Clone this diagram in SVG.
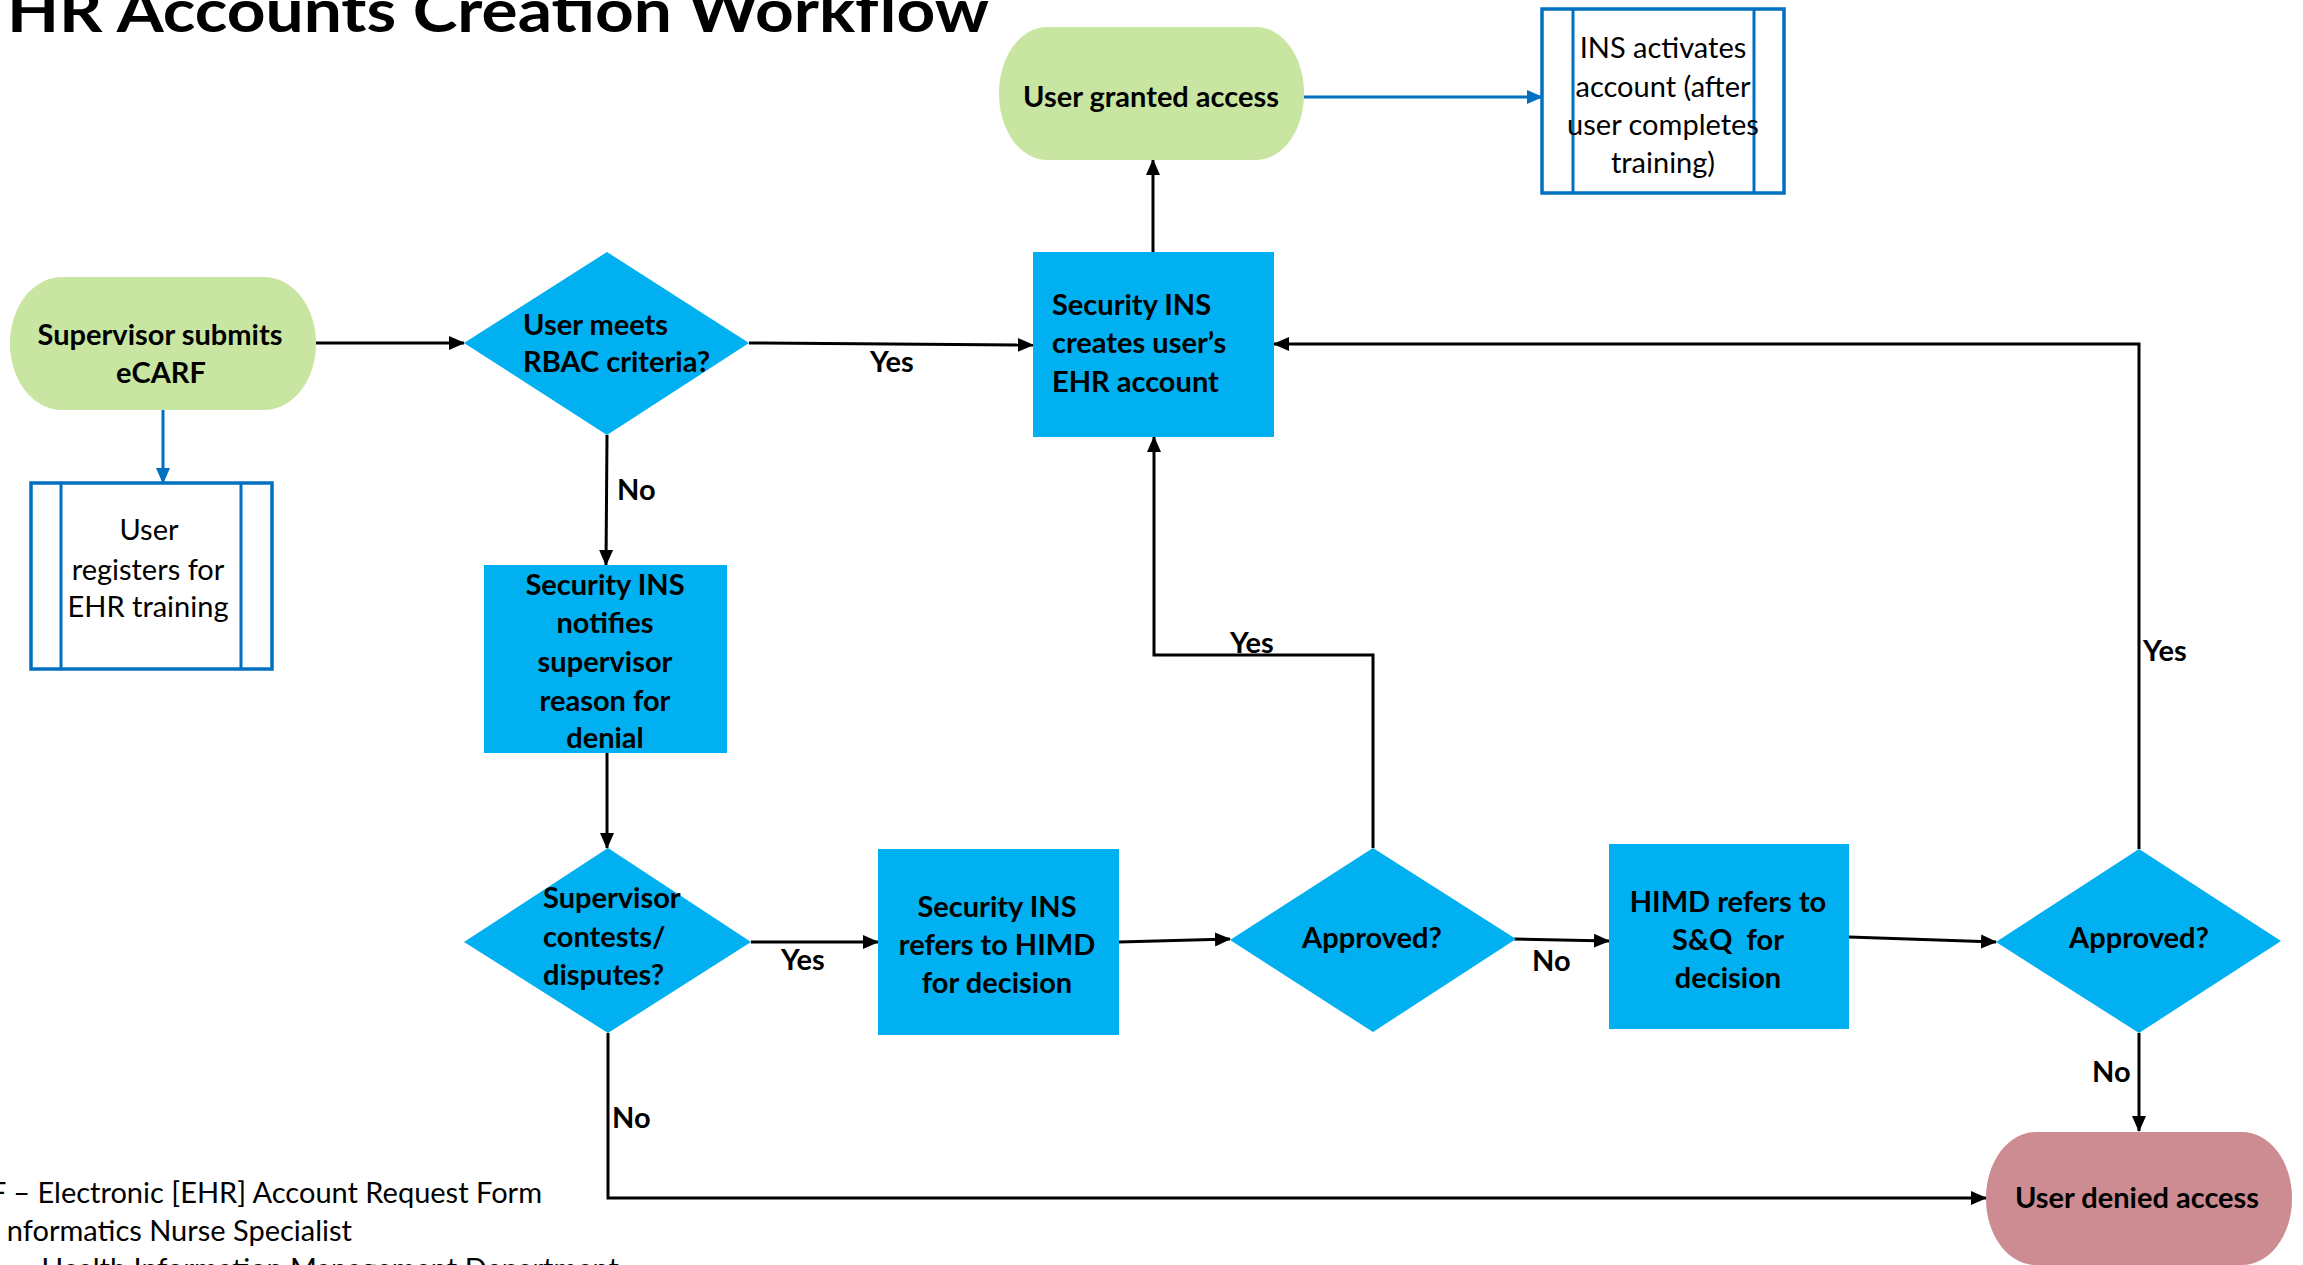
<svg xmlns="http://www.w3.org/2000/svg" width="2303" height="1265" viewBox="0 0 2303 1265">
<style>
.t{font-family:Lato,"Liberation Sans",sans-serif;fill:#000}
.b{font-weight:700;font-size:29px}
.r{font-weight:400;font-size:29px}
.m{text-anchor:middle}
.green{fill:#C8E6A2}
.cyan{fill:#00B0F0}
.pink{fill:#CD8B92}
.sub{fill:#fff;stroke:#0070C0;stroke-width:3.5}
.subl{stroke:#0070C0;stroke-width:3}
.k{fill:none;stroke:#000;stroke-width:3;marker-end:url(#ak)}
.bl{fill:none;stroke:#0070C0;stroke-width:3;marker-end:url(#ab)}
</style>
<defs>
<marker id="ak" markerUnits="userSpaceOnUse" markerWidth="16" markerHeight="16" refX="15" refY="8" orient="auto"><path d="M0,1 L16,8 L0,15 z" fill="#000"/></marker>
<marker id="ab" markerUnits="userSpaceOnUse" markerWidth="16" markerHeight="16" refX="15" refY="8" orient="auto"><path d="M0,1 L16,8 L0,15 z" fill="#0070C0"/></marker>
</defs>
<rect width="2303" height="1265" fill="#fff"/>
<text class="t" x="7" y="32" font-size="60" font-weight="700" textLength="982" lengthAdjust="spacingAndGlyphs">HR Accounts Creation Workflow</text>

<g id="connectors">
<path class="bl" d="M163,410 L163,483"/>
<path class="bl" d="M1304,97 L1542,97"/>
<path class="k" d="M316,343 L464,343"/>
<path class="k" d="M749,343 L1033,345"/>
<path class="k" d="M607,435 L606,565"/>
<path class="k" d="M607,753 L607,848"/>
<path class="k" d="M751,942 L878,942"/>
<path class="k" d="M1119,942 L1230,939"/>
<path class="k" d="M1373,848 L1373,655 L1154,655 L1154,437"/>
<path class="k" d="M1514,939 L1609,941"/>
<path class="k" d="M1849,937 L1996,942"/>
<path class="k" d="M2139,849 L2139,344 L1274,344"/>
<path class="k" d="M2139,1033 L2139,1131"/>
<path class="k" d="M608,1033 L608,1198 L1986,1198"/>
<path class="k" d="M1153,252 L1153,160" stroke-width="4"/>
<text class="t b" x="870" y="372">Yes</text>
<text class="t b" x="617" y="500">No</text>
<text class="t b" x="781" y="970">Yes</text>
<text class="t b" x="1230" y="653">Yes</text>
<text class="t b" x="1532" y="971">No</text>
<text class="t b" x="2143" y="661">Yes</text>
<text class="t b" x="2092" y="1082">No</text>
<text class="t b" x="612" y="1128">No</text>
</g>

<g id="n-submit">
<rect class="green" x="10" y="277" width="306" height="133" rx="52" ry="66"/>
<text class="t b m" x="160" y="345">Supervisor submits</text>
<text class="t b m" x="161" y="383">eCARF</text>
</g>

<g id="n-register">
<rect class="sub" x="31" y="483" width="241" height="186"/>
<line class="subl" x1="61" y1="483" x2="61" y2="669"/>
<line class="subl" x1="241" y1="483" x2="241" y2="669"/>
<text class="t r m" x="149" y="540">User</text>
<text class="t r m" x="148" y="580">registers for</text>
<text class="t r m" x="148" y="617">EHR training</text>
</g>

<g id="n-rbac">
<polygon class="cyan" points="607,252 749,343 607,435 464,343"/>
<text class="t b" x="523" y="335">User meets</text>
<text class="t b" x="523" y="372">RBAC criteria?</text>
</g>

<g id="n-create">
<rect class="cyan" x="1033" y="252" width="241" height="185"/>
<text class="t b" x="1052" y="315">Security INS</text>
<text class="t b" x="1052" y="353">creates user’s</text>
<text class="t b" x="1052" y="392">EHR account</text>
</g>

<g id="n-granted">
<rect class="green" x="999" y="27" width="305" height="133" rx="48" ry="66"/>
<text class="t b m" x="1151" y="107">User granted access</text>
</g>

<g id="n-activate">
<rect class="sub" x="1542" y="9" width="242" height="184"/>
<line class="subl" x1="1573" y1="9" x2="1573" y2="193"/>
<line class="subl" x1="1754" y1="9" x2="1754" y2="193"/>
<text class="t r m" x="1663" y="58">INS activates</text>
<text class="t r m" x="1663" y="97">account (after</text>
<text class="t r m" x="1663" y="135">user completes</text>
<text class="t r m" x="1663" y="173">training)</text>
</g>

<g id="n-notify">
<rect class="cyan" x="484" y="565" width="243" height="188"/>
<text class="t b m" x="605" y="595">Security INS</text>
<text class="t b m" x="605" y="633">notifies</text>
<text class="t b m" x="605" y="672">supervisor</text>
<text class="t b m" x="605" y="711">reason for</text>
<text class="t b m" x="605" y="748">denial</text>
</g>

<g id="n-contest">
<polygon class="cyan" points="608,848 751,942 608,1033 464,942"/>
<text class="t b" x="543" y="908">Supervisor</text>
<text class="t b" x="543" y="947">contests/</text>
<text class="t b" x="543" y="985">disputes?</text>
</g>

<g id="n-refer">
<rect class="cyan" x="878" y="849" width="241" height="186"/>
<text class="t b m" x="997" y="917">Security INS</text>
<text class="t b m" x="997" y="955">refers to HIMD</text>
<text class="t b m" x="997" y="993">for decision</text>
</g>

<g id="n-approved1">
<polygon class="cyan" points="1373,848 1516,939 1373,1032 1230,940"/>
<text class="t b m" x="1372" y="948">Approved?</text>
</g>

<g id="n-himd">
<rect class="cyan" x="1609" y="844" width="240" height="185"/>
<text class="t b m" x="1728" y="912">HIMD refers to</text>
<text class="t b m" x="1728" y="950" xml:space="preserve">S&amp;Q  for</text>
<text class="t b m" x="1728" y="988">decision</text>
</g>

<g id="n-approved2">
<polygon class="cyan" points="2139,849 2281,941 2139,1033 1996,942"/>
<text class="t b m" x="2139" y="948">Approved?</text>
</g>

<g id="n-denied">
<rect class="pink" x="1986" y="1132" width="306" height="133" rx="50" ry="66"/>
<text class="t b m" x="2137" y="1208">User denied access</text>
</g>

<g id="legend">
<text class="t r" x="542" y="1203" text-anchor="end">F – Electronic [EHR] Account Request Form</text>
<text class="t r" x="352" y="1241" text-anchor="end">nformatics Nurse Specialist</text>
<text class="t r" x="619" y="1279" text-anchor="end">– Health Information Management Department</text>
</g>
</svg>
